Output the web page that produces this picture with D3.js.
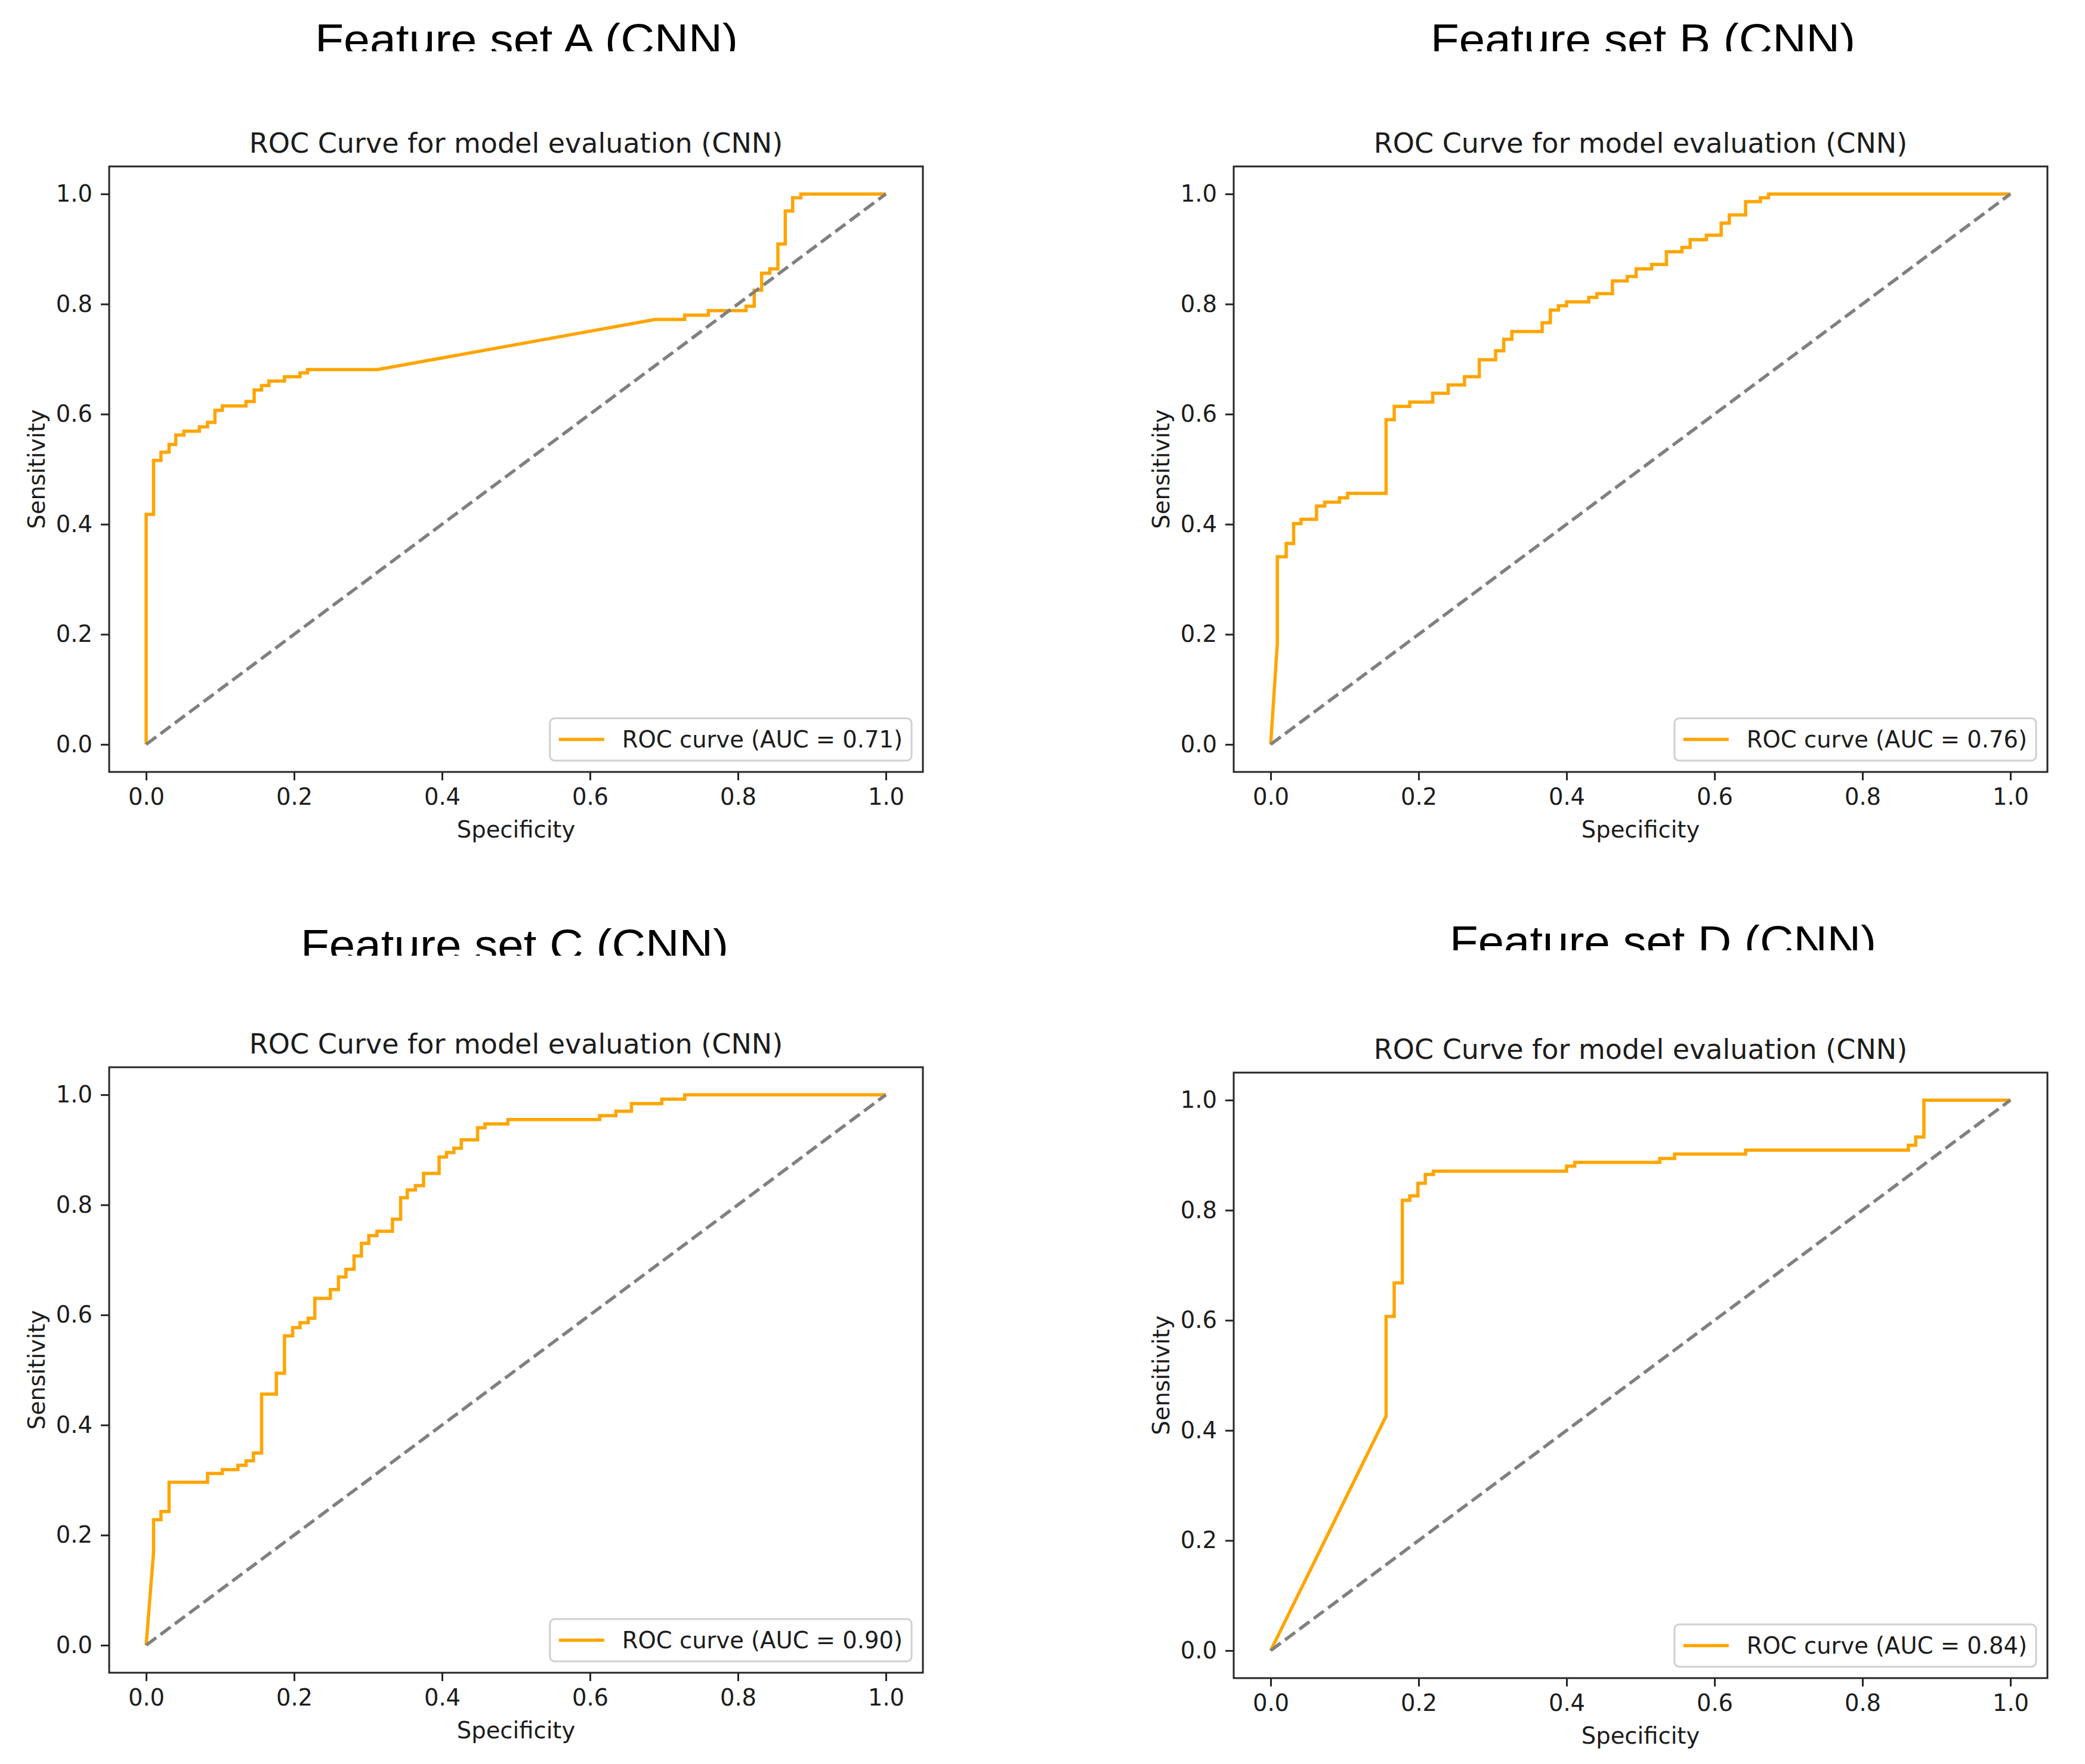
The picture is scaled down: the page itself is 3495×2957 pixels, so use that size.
<!DOCTYPE html>
<html>
<head>
<meta charset="utf-8">
<script src="https://cdn.jsdelivr.net/npm/d3@7"></script>
<style>
    html, body { margin: 0; padding: 0; background: #fff; }
    svg { display: block; }
</style>
</head>
<body>
<div id="chart"></div>
<script>
// Texts
const PANEL_TITLES = ["Feature set A (CNN)", "Feature set B (CNN)", "Feature set C (CNN)", "Feature set D (CNN)"];
const SUBTITLE = "ROC Curve for model evaluation (CNN)";
const X_LABEL = "Specificity";
const Y_LABEL = "Sensitivity";
const AUC_VALUES = ["0.71", "0.76", "0.90", "0.84"];
const TICKS = [0.0, 0.2, 0.4, 0.6, 0.8, 1.0];

// ROC points [x, y] (step corners included)
const rocA = [[0,0],[0,0.418],[0.010,0.418],[0.010,0.516],[0.020,0.516],[0.020,0.531],[0.031,0.531],[0.031,0.545],
    [0.040,0.545],[0.040,0.562],[0.051,0.562],[0.051,0.569],[0.072,0.569],[0.072,0.577],[0.083,0.577],[0.083,0.585],
    [0.093,0.585],[0.093,0.607],[0.103,0.607],[0.103,0.615],[0.135,0.615],[0.135,0.623],[0.146,0.623],[0.146,0.644],
    [0.156,0.644],[0.156,0.652],[0.166,0.652],[0.166,0.660],[0.187,0.660],[0.187,0.668],[0.208,0.668],[0.208,0.675],
    [0.218,0.675],[0.218,0.681],[0.313,0.681],[0.688,0.772],[0.728,0.772],[0.728,0.780],[0.760,0.780],[0.760,0.788],
    [0.811,0.788],[0.811,0.796],[0.822,0.796],[0.822,0.825],[0.832,0.825],[0.832,0.856],[0.843,0.856],[0.843,0.864],
    [0.854,0.864],[0.854,0.909],[0.864,0.909],[0.864,0.969],[0.874,0.969],[0.874,0.993],[0.885,0.993],[0.885,1.0],[1.0,1.0]];

const rocB = [[0,0],[0.009,0.184],[0.009,0.341],[0.021,0.341],[0.021,0.365],[0.031,0.365],[0.031,0.401],[0.041,0.401],
    [0.041,0.409],[0.062,0.409],[0.062,0.433],[0.073,0.433],[0.073,0.440],[0.093,0.440],[0.093,0.448],[0.104,0.448],
    [0.104,0.456],[0.156,0.456],[0.156,0.590],[0.167,0.590],[0.167,0.614],[0.188,0.614],[0.188,0.622],[0.219,0.622],
    [0.219,0.638],[0.240,0.638],[0.240,0.653],[0.262,0.653],[0.262,0.668],[0.282,0.668],[0.282,0.699],[0.304,0.699],
    [0.304,0.715],[0.315,0.715],[0.315,0.736],[0.326,0.736],[0.326,0.750],[0.367,0.750],[0.367,0.766],[0.378,0.766],
    [0.378,0.789],[0.389,0.789],[0.389,0.797],[0.400,0.797],[0.400,0.804],[0.430,0.804],[0.430,0.812],[0.441,0.812],
    [0.441,0.819],[0.462,0.819],[0.462,0.842],[0.482,0.842],[0.482,0.850],[0.494,0.850],[0.494,0.864],[0.515,0.864],
    [0.515,0.872],[0.535,0.872],[0.535,0.895],[0.556,0.895],[0.556,0.903],[0.567,0.903],[0.567,0.917],[0.589,0.917],
    [0.589,0.925],[0.609,0.925],[0.609,0.947],[0.620,0.947],[0.620,0.962],[0.642,0.962],[0.642,0.986],[0.662,0.986],
    [0.662,0.993],[0.673,0.993],[0.673,1.0],[1.0,1.0]];

const rocC = [[0,0],[0.010,0.169],[0.010,0.228],[0.020,0.228],[0.020,0.243],[0.031,0.243],[0.031,0.296],[0.083,0.296],
    [0.083,0.312],[0.103,0.312],[0.103,0.319],[0.124,0.319],[0.124,0.327],[0.135,0.327],[0.135,0.335],[0.145,0.335],
    [0.145,0.349],[0.156,0.349],[0.156,0.456],[0.176,0.456],[0.176,0.494],[0.187,0.494],[0.187,0.562],[0.198,0.562],
    [0.198,0.577],[0.208,0.577],[0.208,0.586],[0.219,0.586],[0.219,0.594],[0.228,0.594],[0.228,0.630],[0.249,0.630],
    [0.249,0.646],[0.260,0.646],[0.260,0.669],[0.270,0.669],[0.270,0.683],[0.281,0.683],[0.281,0.707],[0.291,0.707],
    [0.291,0.730],[0.301,0.730],[0.301,0.744],[0.312,0.744],[0.312,0.752],[0.333,0.752],[0.333,0.774],[0.344,0.774],
    [0.344,0.813],[0.353,0.813],[0.353,0.827],[0.364,0.827],[0.364,0.835],[0.375,0.835],[0.375,0.857],[0.396,0.857],
    [0.396,0.887],[0.406,0.887],[0.406,0.895],[0.416,0.895],[0.416,0.903],[0.426,0.903],[0.426,0.918],[0.448,0.918],
    [0.448,0.940],[0.458,0.940],[0.458,0.947],[0.489,0.947],[0.489,0.955],[0.613,0.955],[0.613,0.962],[0.635,0.962],
    [0.635,0.970],[0.656,0.970],[0.656,0.984],[0.697,0.984],[0.697,0.992],[0.728,0.992],[0.728,1.0],[1.0,1.0]];

const rocD = [[0,0],[0.156,0.426],[0.156,0.607],[0.167,0.607],[0.167,0.668],[0.178,0.668],[0.178,0.818],[0.188,0.818],
    [0.188,0.826],[0.199,0.826],[0.199,0.849],[0.209,0.849],[0.209,0.865],[0.220,0.865],[0.220,0.871],[0.400,0.871],
    [0.400,0.880],[0.411,0.880],[0.411,0.887],[0.526,0.887],[0.526,0.894],[0.546,0.894],[0.546,0.902],[0.642,0.902],
    [0.642,0.909],[0.862,0.909],[0.862,0.918],[0.872,0.918],[0.872,0.933],[0.883,0.933],[0.883,1.0],[1.0,1.0]];

const CHANCE = [[0, 0], [1, 1]];

const COLORS = {
    roc: "#ffa500",
    chance: "#808080",
    ink: "#1c1c1c",
    frame: "#262626",
    legendEdge: "#d0d0d0"
};

// Frame box and heading placement of each panel (pixels)
const LAYOUT = [
    { left: 183,  top: 279,  headX: 528,  headLen: 709, headTop: 39,   headClip: 86 },
    { left: 2068, top: 279,  headX: 2398, headLen: 712, headTop: 39,   headClip: 86 },
    { left: 183,  top: 1789, headX: 504,  headLen: 717, headTop: 1557, headClip: 1602 },
    { left: 2068, top: 1798, headX: 2430, headLen: 715, headTop: 1551, headClip: 1593 }
];
const SERIES = [rocA, rocB, rocC, rocD];

const BOX_W = 1364, BOX_H = 1015;
const SMALL_FONT = 38.5;

const svg = d3.select("#chart")
    .append("svg")
    .attr("width", 3495)
    .attr("height", 2957)
    .style("font-family", "'DejaVu Sans', sans-serif");

svg.append("rect").attr("width", 3495).attr("height", 2957).attr("fill", "#fff");

SERIES.forEach((roc, i) => renderPanel(i, roc, LAYOUT[i]));

function renderPanel(i, roc, lay) {
    const x = d3.scaleLinear().domain([-0.05, 1.05]).range([0, BOX_W]);
    const y = d3.scaleLinear().domain([-0.05, 1.05]).range([BOX_H, 0]);

    // Big heading, cut off at its bottom like in the source
    const clipId = "head-clip-" + i;
    svg.append("clipPath").attr("id", clipId)
        .append("rect")
        .attr("x", lay.headX - 40).attr("y", lay.headTop - 40)
        .attr("width", lay.headLen + 80).attr("height", lay.headClip - lay.headTop + 40);

    svg.append("text")
        .attr("clip-path", `url(#${clipId})`)
        .attr("x", lay.headX)
        .attr("y", lay.headTop + 53)
        .attr("textLength", lay.headLen)
        .attr("lengthAdjust", "spacingAndGlyphs")
        .style("font-family", "'Liberation Sans', Arial, sans-serif")
        .style("font-size", "74px")
        .style("fill", "#000")
        .text(PANEL_TITLES[i]);

    const g = svg.append("g").attr("transform", `translate(${lay.left},${lay.top})`);

    // Subtitle
    g.append("text")
        .attr("x", BOX_W / 2)
        .attr("y", -23)
        .attr("text-anchor", "middle")
        .style("font-size", "46px")
        .style("fill", COLORS.ink)
        .text(SUBTITLE);

    // Axes
    const fmt = d3.format(".1f");
    const xAxis = g.append("g")
        .attr("transform", `translate(0,${BOX_H})`)
        .call(d3.axisBottom(x).tickValues(TICKS).tickFormat(fmt).tickSize(14).tickPadding(14).tickSizeOuter(0));
    const yAxis = g.append("g")
        .call(d3.axisLeft(y).tickValues(TICKS).tickFormat(fmt).tickSize(14).tickPadding(14).tickSizeOuter(0));

    [xAxis, yAxis].forEach(ax => {
        ax.select(".domain").remove();
        ax.selectAll(".tick line").attr("stroke", COLORS.frame).attr("stroke-width", 3);
        ax.selectAll("text")
            .style("font-size", SMALL_FONT + "px")
            .style("font-family", "'DejaVu Sans', sans-serif")
            .attr("fill", COLORS.ink);
    });

    // Axis labels
    g.append("text")
        .attr("x", BOX_W / 2)
        .attr("y", BOX_H + 110)
        .attr("text-anchor", "middle")
        .style("font-size", SMALL_FONT + "px")
        .style("fill", COLORS.ink)
        .text(X_LABEL);

    g.append("text")
        .attr("transform", `translate(-108,${BOX_H / 2}) rotate(-90)`)
        .attr("text-anchor", "middle")
        .style("font-size", SMALL_FONT + "px")
        .style("fill", COLORS.ink)
        .text(Y_LABEL);

    // Curves
    const line = d3.line().x(d => x(d[0])).y(d => y(d[1]));

    g.append("path")
        .datum(roc)
        .attr("d", line)
        .attr("fill", "none")
        .attr("stroke", COLORS.roc)
        .attr("stroke-width", 5.5)
        .attr("stroke-linejoin", "miter");

    g.append("path")
        .datum(CHANCE)
        .attr("d", line)
        .attr("fill", "none")
        .attr("stroke", COLORS.chance)
        .attr("stroke-width", 5.5)
        .attr("stroke-dasharray", "21,9");

    // Frame
    g.append("rect")
        .attr("width", BOX_W)
        .attr("height", BOX_H)
        .attr("fill", "none")
        .attr("stroke", COLORS.frame)
        .attr("stroke-width", 3);

    // Legend (lower right)
    const leg = g.append("g");
    const legText = leg.append("text")
        .style("font-size", SMALL_FONT + "px")
        .style("fill", COLORS.ink)
        .text(`ROC curve (AUC = ${AUC_VALUES[i]})`);
    const tw = legText.node().getComputedTextLength();
    const pad = 15, handle = 76, gap = 30, legH = 71;
    const legW = pad + handle + gap + tw + pad;
    const lx = BOX_W - 19 - legW;
    const ly = BOX_H - 19 - legH;

    leg.insert("rect", "text")
        .attr("x", lx).attr("y", ly)
        .attr("width", legW).attr("height", legH)
        .attr("rx", 8)
        .attr("fill", "#fff")
        .attr("fill-opacity", 0.8)
        .attr("stroke", COLORS.legendEdge)
        .attr("stroke-width", 3);

    leg.insert("line", "text")
        .attr("x1", lx + pad).attr("x2", lx + pad + handle)
        .attr("y1", ly + legH / 2).attr("y2", ly + legH / 2)
        .attr("stroke", COLORS.roc)
        .attr("stroke-width", 5.5);

    legText
        .attr("x", lx + pad + handle + gap)
        .attr("y", ly + legH / 2)
        .attr("dy", "0.36em");
}
</script>
</body>
</html>
